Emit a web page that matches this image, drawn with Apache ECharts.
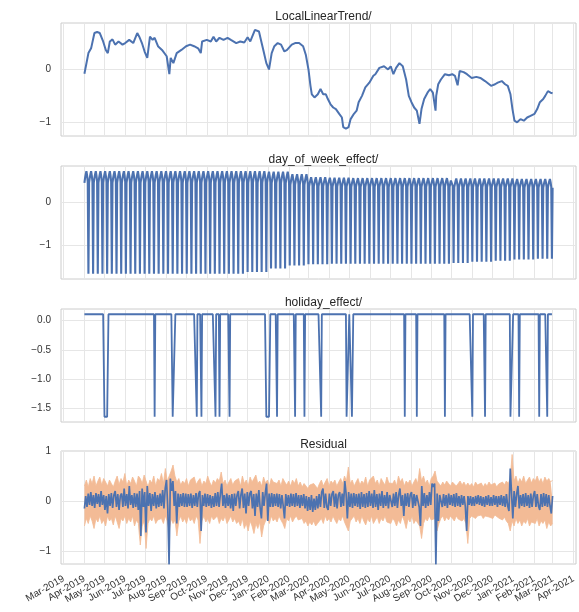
<!DOCTYPE html>
<html>
<head>
<meta charset="utf-8">
<script src="https://cdn.jsdelivr.net/npm/echarts@6/dist/echarts.min.js"></script>
<style>
  html, body { margin: 0; padding: 0; background: #ffffff; }
  #chart { width: 579px; height: 612px; }
</style>
</head>
<body>
<div id="chart"></div>
<script>
// ---- data -------------------------------------------------------------
// Daily series run from 2019-04-01 (day 0) to 2021-03-01 (day 700).
const startDate = '2019-04-01';
const lastDay = 700;

const tickLabels = ['Mar-2019','Apr-2019','May-2019','Jun-2019','Jul-2019','Aug-2019','Sep-2019',
  'Oct-2019','Nov-2019','Dec-2019','Jan-2020','Feb-2020','Mar-2020','Apr-2020','May-2020','Jun-2020',
  'Jul-2020','Aug-2020','Sep-2020','Oct-2020','Nov-2020','Dec-2020','Jan-2021','Feb-2021','Mar-2021','Apr-2021'];

const panelTitles = ['LocalLinearTrend/', 'day_of_week_effect/', 'holiday_effect/', 'Residual'];

// Local linear trend: day offset and level
const trendDays = [0,6,10,15,19,23,28,32,35,38,42,46,51,57,61,67,73,79,82,86,90,94,98,102,105,110,116,123,127,129,
  133,138,145,152,158,164,170,174,176,183,189,193,197,202,208,214,219,227,233,239,244,248,255,261,265,268,272,276,280,284,
  289,294,299,303,310,315,321,327,331,335,338,340,344,349,353,357,361,364,368,372,376,381,385,387,391,395,398,403,407,410,
  415,420,426,432,435,441,448,454,458,462,466,471,476,481,485,489,493,497,501,504,508,513,517,521,525,526,529,533,539,545,
  550,554,558,561,567,572,579,586,592,599,608,614,618,624,629,633,637,640,643,647,652,657,662,667,673,677,681,686,689,693,697,700];
const trendValues = [-0.08,0.31,0.40,0.69,0.71,0.69,0.53,0.37,0.31,0.53,0.57,0.47,0.53,0.47,0.50,0.56,0.50,0.69,0.62,0.50,
  0.34,0.22,0.62,0.56,0.60,0.44,0.37,0.25,-0.09,0.22,0.12,0.31,0.37,0.44,0.47,0.44,0.40,0.31,0.53,0.56,
  0.53,0.62,0.53,0.60,0.56,0.60,0.56,0.50,0.53,0.51,0.61,0.53,0.75,0.72,0.50,0.34,0.12,0.00,0.31,0.44,
  0.50,0.47,0.34,0.37,0.47,0.50,0.50,0.44,0.28,0.00,-0.31,-0.47,-0.53,-0.47,-0.37,-0.47,-0.47,-0.56,-0.66,-0.72,
  -0.75,-0.84,-0.91,-1.09,-1.12,-1.09,-0.94,-0.84,-0.78,-0.62,-0.50,-0.34,-0.25,-0.12,-0.09,0.03,0.06,0.00,0.06,-0.09,
  0.03,0.12,0.06,-0.19,-0.50,-0.62,-0.72,-0.78,-1.03,-0.75,-0.56,-0.44,-0.37,-0.44,-0.78,-0.50,-0.28,-0.19,-0.09,-0.11,
  -0.09,-0.12,-0.30,-0.03,-0.05,-0.09,-0.16,-0.14,-0.16,-0.22,-0.31,-0.28,-0.25,-0.22,-0.28,-0.31,-0.47,-0.75,-0.97,-1.00,
  -0.94,-0.97,-0.91,-0.88,-0.84,-0.75,-0.62,-0.56,-0.50,-0.41,-0.44,-0.45];

// Day-of-week effect: monthly high / low levels (Apr-2019 .. Mar-2021) and the weekday shape
const dowTop = [0.71,0.71,0.71,0.71,0.71,0.71,0.71,0.71,0.71,0.70,0.64,0.57,
  0.56,0.55,0.55,0.55,0.55,0.55,0.54,0.54,0.54,0.53,0.53,0.53];
const dowDip = [-1.66,-1.66,-1.66,-1.66,-1.66,-1.66,-1.66,-1.66,-1.62,-1.54,-1.47,-1.44,
  -1.43,-1.43,-1.43,-1.43,-1.43,-1.43,-1.41,-1.38,-1.36,-1.33,-1.31,-1.30];
const dowShape = [0.62, 0.78, 0.90, 1.00, 0.86, 0.66];

// Holiday effect: baseline, dip level, and holiday spans (day offsets, inclusive)
const holidayBase = 0.11;
const holidayDip = -1.65;
const holidayStart = [30,105,132,168,175,196,202,217,272,288,315,329,354,392,400,479,497,539,580,599,637,650,680,692];
const holidayEnd   = [35,105,135,168,175,196,202,217,277,288,315,329,354,395,401,479,497,539,580,599,640,650,680,692];

// Residual, sampled evenly over the whole period
const residualValues = [
  -0.15,0.10,-0.12,0.15,-0.08,0.18,-0.10,0.12,-0.14,0.16,-0.06,0.14,-0.12,0.20,-0.08,0.12,-0.18,0.10,-0.25,0.14,
  -0.10,0.16,-0.14,0.12,0.20,-0.12,0.14,-0.18,0.10,0.15,-0.12,0.25,-0.10,0.14,-0.15,0.30,-0.08,0.12,-0.14,0.16,
  -0.12,0.15,-0.18,0.20,-0.70,0.25,-0.12,0.18,-0.63,0.30,-0.10,0.16,-0.20,0.14,-0.10,0.18,-0.15,0.12,-0.12,0.15,
  -0.10,0.22,-0.15,0.25,0.42,-0.15,-1.27,0.45,0.20,0.40,-0.10,0.20,-0.45,0.15,-0.12,0.14,-0.10,0.16,-0.12,0.15,
  -0.12,0.14,-0.10,0.15,-0.14,0.12,-0.10,0.16,-0.12,0.14,0.20,-0.60,0.12,-0.10,0.15,-0.12,0.14,-0.10,0.12,-0.14,
  0.10,-0.12,0.16,-0.10,0.18,-0.12,0.14,0.35,-0.10,0.12,-0.14,0.15,-0.10,0.12,-0.15,0.14,-0.20,0.15,-0.10,0.12,
  0.20,-0.15,0.12,0.25,-0.14,0.15,-0.25,0.18,-0.10,0.15,0.20,-0.15,0.14,-0.30,0.15,-0.12,0.22,-0.14,-0.35,0.18,
  -0.10,0.15,0.35,-0.40,0.15,-0.12,0.16,-0.12,0.14,-0.10,0.15,-0.12,0.14,-0.15,0.12,-0.10,-0.35,0.14,-0.10,0.12,
  -0.12,0.15,-0.10,0.14,-0.12,0.16,-0.10,0.12,-0.14,0.12,-0.10,0.14,-0.15,0.10,-0.20,0.08,-0.18,0.12,-0.22,0.05,
  -0.18,0.10,-0.15,0.14,-0.12,0.18,0.25,-0.14,0.15,-0.12,-0.18,0.15,-0.10,0.14,0.20,-0.12,0.15,-0.15,0.12,0.18,
  -0.12,0.15,-0.10,0.40,0.15,-0.35,0.18,-0.12,0.15,-0.14,0.16,-0.10,0.14,-0.12,0.15,-0.16,0.18,-0.12,0.14,-0.14,
  0.16,-0.12,0.20,-0.10,0.15,-0.14,0.22,-0.12,0.14,-0.18,0.15,-0.10,0.20,-0.14,0.12,-0.10,0.18,-0.15,0.12,0.14,
  -0.12,0.15,-0.10,0.18,-0.14,0.12,0.25,-0.10,0.12,-0.30,0.15,-0.10,0.16,-0.12,0.12,0.18,-0.14,0.14,-0.10,0.12,
  0.15,-0.12,-0.50,0.30,-0.10,0.16,-0.14,0.12,-0.10,0.18,-0.08,0.35,0.28,0.35,-1.27,0.15,-0.40,0.12,0.15,-0.12,
  0.14,-0.10,0.12,-0.14,0.15,-0.08,0.12,-0.10,0.14,-0.12,0.16,-0.10,0.10,-0.12,0.12,-0.08,0.10,-0.12,-0.60,0.10,
  -0.08,0.10,-0.10,0.08,-0.10,0.10,-0.06,0.12,-0.08,0.10,-0.10,0.08,-0.12,0.10,-0.08,0.12,-0.10,0.08,-0.10,0.12,
  -0.08,0.10,-0.12,0.10,-0.08,0.12,-0.10,0.10,-0.12,0.14,-0.10,-0.20,0.65,0.15,-0.35,0.20,-0.12,0.14,0.30,-0.15,
  0.12,-0.10,0.14,-0.12,0.16,-0.10,0.12,-0.14,0.15,-0.12,0.10,0.20,-0.12,0.14,-0.10,-0.18,0.14,-0.12,0.16,-0.10,
  0.14,-0.12,0.12,-0.10,-0.25,0.10];

// Residual uncertainty band, sampled evenly over the whole period
const bandUpper = [
  0.30,0.42,0.28,0.45,0.35,0.50,0.30,0.40,0.48,0.32,0.45,0.38,0.30,0.42,0.35,0.28,0.40,0.50,0.33,0.45,
  0.38,0.55,0.30,0.42,0.35,0.48,0.40,0.30,0.50,0.45,0.35,0.52,0.40,0.28,0.42,0.36,0.50,0.30,0.45,0.40,
  0.55,0.35,0.65,0.40,0.50,0.60,0.72,0.50,0.38,0.45,0.32,0.40,0.35,0.45,0.30,0.42,0.38,0.48,0.33,0.40,
  0.45,0.30,0.40,0.35,0.50,0.38,0.30,0.42,0.36,0.45,0.40,0.58,0.35,0.42,0.30,0.38,0.45,0.32,0.40,0.36,
  0.45,0.30,0.50,0.35,0.42,0.30,0.48,0.38,0.45,0.52,0.35,0.40,0.30,0.48,0.36,0.42,0.30,0.45,0.38,0.40,
  0.35,0.42,0.30,0.45,0.38,0.32,0.40,0.30,0.42,0.35,0.45,0.30,0.38,0.28,0.35,0.30,0.25,0.32,0.28,0.35,
  0.30,0.25,0.35,0.42,0.30,0.38,0.45,0.30,0.40,0.35,0.42,0.30,0.38,0.45,0.35,0.50,0.40,0.68,0.35,0.42,
  0.30,0.38,0.45,0.32,0.40,0.35,0.48,0.30,0.42,0.38,0.50,0.35,0.42,0.30,0.45,0.38,0.32,0.48,0.36,0.40,
  0.35,0.42,0.30,0.50,0.38,0.45,0.30,0.40,0.35,0.42,0.30,0.38,0.45,0.35,0.65,0.40,0.50,0.35,0.42,0.30,
  0.45,0.50,0.60,0.40,0.35,0.30,0.38,0.32,0.40,0.35,0.30,0.38,0.42,0.30,0.35,0.40,0.32,0.38,0.30,0.36,
  0.30,0.35,0.28,0.38,0.32,0.30,0.36,0.28,0.35,0.30,0.38,0.32,0.30,0.36,0.28,0.34,0.30,0.38,0.32,0.40,
  0.35,0.45,0.93,0.40,0.50,0.35,0.45,0.38,0.50,0.35,0.42,0.48,0.36,0.45,0.40,0.50,0.38,0.45,0.35,0.48,
  0.40,0.45,0.38,0.42];
const bandLower = [
  -0.50,-0.35,-0.45,-0.30,-0.40,-0.55,-0.35,-0.42,-0.30,-0.45,-0.38,-0.50,-0.30,-0.40,-0.35,-0.48,-0.30,-0.42,-0.55,-0.35,
  -0.40,-0.30,-0.45,-0.35,-0.42,-0.30,-0.50,-0.38,-0.45,-0.88,-0.50,-0.40,-0.95,-0.45,-0.35,-0.40,-0.30,-0.45,-0.38,-0.42,
  -0.35,-0.45,-0.30,-0.40,-0.60,-0.35,-0.45,-0.38,-0.70,-0.40,-0.30,-0.42,-0.35,-0.45,-0.30,-0.40,-0.35,-0.45,-0.30,-0.38,
  -0.85,-0.40,-0.30,-0.42,-0.35,-0.45,-0.30,-0.38,-0.42,-0.30,-0.45,-0.35,-0.40,-0.30,-0.45,-0.38,-0.30,-0.42,-0.35,-0.45,
  -0.40,-0.50,-0.35,-0.55,-0.45,-0.60,-0.40,-0.50,-0.65,-0.45,-0.55,-0.42,-0.72,-0.50,-0.40,-0.35,-0.45,-0.30,-0.40,-0.35,
  -0.42,-0.30,-0.38,-0.45,-0.55,-0.35,-0.40,-0.30,-0.42,-0.35,-0.30,-0.38,-0.42,-0.35,-0.45,-0.40,-0.50,-0.42,-0.48,-0.40,
  -0.50,-0.45,-0.40,-0.35,-0.45,-0.30,-0.40,-0.35,-0.42,-0.30,-0.38,-0.45,-0.35,-0.40,-0.30,-0.42,-0.38,-0.60,-0.40,-0.35,
  -0.30,-0.42,-0.35,-0.45,-0.30,-0.40,-0.48,-0.35,-0.42,-0.30,-0.45,-0.38,-0.32,-0.45,-0.35,-0.40,-0.30,-0.42,-0.38,-0.45,
  -0.35,-0.40,-0.50,-0.38,-0.45,-0.30,-0.40,-0.55,-0.35,-0.42,-0.30,-0.45,-0.38,-0.40,-0.50,-0.75,-0.45,-0.35,-0.40,-0.30,
  -0.38,-0.42,-0.35,-0.60,-0.45,-0.35,-0.30,-0.40,-0.32,-0.38,-0.30,-0.35,-0.40,-0.30,-0.36,-0.32,-0.40,-0.35,-0.45,-0.85,
  -0.35,-0.30,-0.28,-0.35,-0.30,-0.32,-0.28,-0.35,-0.30,-0.26,-0.32,-0.30,-0.35,-0.28,-0.30,-0.34,-0.30,-0.38,-0.32,-0.40,
  -0.45,-0.60,-0.40,-0.50,-0.35,-0.45,-0.38,-0.50,-0.40,-0.45,-0.35,-0.50,-0.42,-0.38,-0.45,-0.35,-0.50,-0.40,-0.45,-0.38,
  -0.55,-0.42,-0.50,-0.45];

// Y tick values for each panel
const yTicks = [[-1, 0], [-1, 0], [-1.5, -1.0, -0.5, 0.0], [-1, 0, 1]];
const yDecimals = [0, 0, 1, 0];

// ---- build series tables ----------------------------------------------
const DAY = 86400000;
const t0 = Date.parse(startDate + 'T00:00:00Z');
const at = d => t0 + d * DAY;
const MONTHS = ['Jan','Feb','Mar','Apr','May','Jun','Jul','Aug','Sep','Oct','Nov','Dec'];
const tickTimes = tickLabels.map(s => {
  const [m, y] = s.split('-');
  return Date.UTC(+y, MONTHS.indexOf(m), 1);
});
const nearestLabel = v => {
  let best = '', bd = Infinity;
  tickTimes.forEach((t, i) => { const dd = Math.abs(t - v); if (dd < bd) { bd = dd; best = tickLabels[i]; } });
  return bd < DAY ? best : '';
};

const monthIndex = d => {
  const dt = new Date(at(d));
  return (dt.getUTCFullYear() - 2019) * 12 + dt.getUTCMonth() - 3;
};

const trendData = trendDays.map((d, i) => [at(d), trendValues[i]]);

const dowData = [];
for (let d = 0; d <= lastDay; d++) {
  const m = monthIndex(d);
  const wd = d % 7;
  dowData.push([at(d), wd === 6 ? dowDip[m] : +(dowTop[m] * dowShape[wd]).toFixed(3)]);
}

const holidayData = [];
for (let d = 0; d <= lastDay; d++) {
  let v = holidayBase;
  for (let k = 0; k < holidayStart.length; k++) {
    if (d >= holidayStart[k] && d <= holidayEnd[k]) { v = holidayDip; break; }
  }
  holidayData.push([at(d), v]);
}

const spread = arr => arr.map((v, i) => [at(i * lastDay / (arr.length - 1)), v]);
const residualData = spread(residualValues);
// the band always straddles zero, so filling each edge to the zero line fills the band
const bandUpperData = spread(bandUpper);
const bandLowerData = spread(bandLower);

// ---- chart --------------------------------------------------------------
const FONT = '"Liberation Sans", Arial, sans-serif';
const BLUE = '#4C72B0';
const ORANGE = '#f3bb96';
const GRID_LINE = '#e6e6e6';
const xMin = at(0) - 35 * DAY;
const xMax = at(lastDay) + 35 * DAY;
const plotLeft = 61, plotRight = 3, plotHeight = 113;
const plotTops = [23, 166, 309, 451];
const yRanges = [[-1.26, 0.88], [-1.78, 0.83], [-1.74, 0.2], [-1.26, 1.0]];

const fmtY = dec => v => {
  const s = Math.abs(v).toFixed(dec);
  return (v < 0 ? '\u2212' : '') + s;
};

const grids = plotTops.map(top => ({
  left: plotLeft, right: plotRight, top: top, height: plotHeight,
  show: true, borderColor: '#cccccc', borderWidth: 1, backgroundColor: '#ffffff'
}));

const xAxes = plotTops.map((_, k) => ({
  type: 'value', gridIndex: k, min: xMin, max: xMax,
  axisLine: { show: false },
  axisTick: { show: false, customValues: tickTimes },
  splitLine: { show: true, lineStyle: { color: GRID_LINE, width: 1 } },
  axisLabel: {
    show: k === 3, customValues: tickTimes, rotate: 30, margin: 14,
    lineHeight: 8,
    showMinLabel: true, showMaxLabel: true, hideOverlap: false,
    fontSize: 10, color: '#333333', fontFamily: FONT,
    formatter: v => nearestLabel(v)
  }
}));

const yAxes = plotTops.map((_, k) => ({
  type: 'value', gridIndex: k, min: yRanges[k][0], max: yRanges[k][1],
  axisLine: { show: false },
  axisTick: { show: false, customValues: yTicks[k] },
  splitLine: { show: true, lineStyle: { color: GRID_LINE, width: 1 } },
  axisLabel: {
    customValues: yTicks[k], margin: 10, fontSize: 10, color: '#333333', fontFamily: FONT,
    showMinLabel: true, showMaxLabel: true,
    formatter: fmtY(yDecimals[k])
  }
}));

const titles = panelTitles.map((text, k) => ({
  text: text, left: plotLeft + (579 - plotLeft - plotRight) / 2, textAlign: 'center',
  top: plotTops[k] - 17,
  textStyle: { fontSize: 12, fontWeight: 'normal', color: '#262626', fontFamily: FONT }
}));

const lineBase = { type: 'line', showSymbol: false, symbol: 'none', animation: false, silent: true };

const option = {
  backgroundColor: '#ffffff',
  animation: false,
  title: titles,
  grid: grids,
  xAxis: xAxes,
  yAxis: yAxes,
  series: [
    Object.assign({}, lineBase, { xAxisIndex: 0, yAxisIndex: 0, data: trendData,
      lineStyle: { color: BLUE, width: 2 } }),
    Object.assign({}, lineBase, { xAxisIndex: 1, yAxisIndex: 1, data: dowData,
      lineStyle: { color: BLUE, width: 2.1 } }),
    Object.assign({}, lineBase, { xAxisIndex: 2, yAxisIndex: 2, data: holidayData,
      lineStyle: { color: BLUE, width: 1.8 } }),
    Object.assign({}, lineBase, { xAxisIndex: 3, yAxisIndex: 3, data: bandUpperData,
      lineStyle: { color: ORANGE, width: 0.8 }, areaStyle: { color: ORANGE, opacity: 1, origin: 0 } }),
    Object.assign({}, lineBase, { xAxisIndex: 3, yAxisIndex: 3, data: bandLowerData,
      lineStyle: { color: ORANGE, width: 0.8 }, areaStyle: { color: ORANGE, opacity: 1, origin: 0 } }),
    Object.assign({}, lineBase, { xAxisIndex: 3, yAxisIndex: 3, data: residualData,
      lineStyle: { color: BLUE, width: 1.7 } })
  ]
};

const chart = echarts.init(document.getElementById('chart'), null, { renderer: 'canvas' });
chart.setOption(option);
</script>
</body>
</html>
